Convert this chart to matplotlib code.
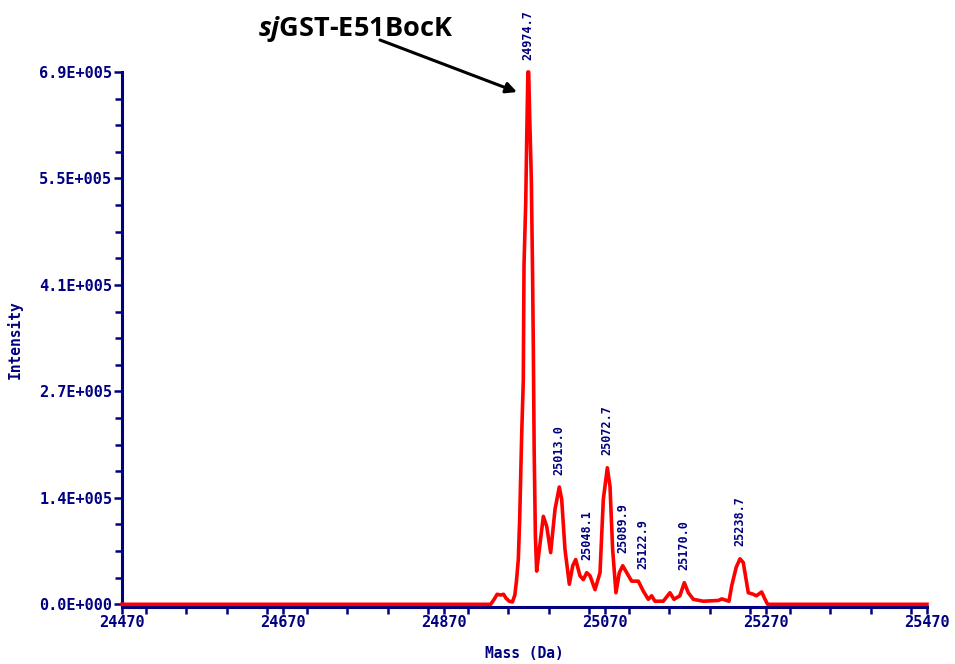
import numpy as np
import matplotlib.pyplot as plt
from matplotlib.ticker import MultipleLocator

# spectrum trace (mass in Da, intensity in counts)
mass = [24470, 24928, 24932, 24936, 24940, 24944, 24947, 24951, 24955, 24958,
        24960, 24962.3, 24964, 24966.5, 24968.5, 24969.4, 24971.5, 24972.7, 24974.2,
        24975.2, 24976.5, 24978.5, 24980, 24981, 24982, 24983.5, 24985.1, 24988.4,
        24993.4, 24997.6, 25002.5, 25007.9, 25013.2, 25016.2, 25020.3, 25025.7,
        25029.9, 25033.6, 25038.9, 25043.1, 25047.3, 25051.4, 25057.6, 25063.8,
        25067.9, 25072.9, 25076.2, 25079.5, 25083.6, 25087.8, 25092.0, 25097,
        25103.1, 25111.4, 25117.6, 25123.8, 25128, 25132, 25142.4, 25150.7, 25155.7,
        25163, 25168.5, 25173.5, 25179.7, 25192, 25211, 25215, 25224, 25227.4, 25233,
        25237.7, 25241.8, 25248, 25254.2, 25258, 25264.6, 25268.8, 25272, 25470]
intensity = [0, 0, 6e3, 1.3e4, 1.2e4, 1.3e4, 8e3, 4e3, 3e3, 1.2e4,
             3e4, 5.8e4, 1.1e5, 2.2e5, 2.9e5, 4.4e5, 5.2e5, 6.0e5, 6.9e5,
             6.9e5, 6.3e5, 5.5e5, 4.3e5, 3.3e5, 2.0e5, 9e4, 4.3e4, 7.1e4,
             1.14e5, 1.01e5, 6.7e4, 1.23e5, 1.52e5, 1.36e5, 7.1e4, 2.6e4,
             5.0e4, 5.8e4, 3.7e4, 3.2e4, 4.1e4, 3.7e4, 1.9e4, 4.1e4,
             1.36e5, 1.77e5, 1.53e5, 7.1e4, 1.5e4, 4.1e4, 5.0e4, 4.1e4,
             3.0e4, 3.0e4, 1.7e4, 6.5e3, 1.1e4, 4e3, 4e3, 1.5e4, 6.5e3,
             1.1e4, 2.8e4, 1.5e4, 6.5e3, 4e3, 5e3, 7e3, 4e3, 2.4e4, 4.8e4,
             5.9e4, 5.4e4, 1.5e4, 1.3e4, 1.1e4, 1.6e4, 6.5e3, 0, 0]

# peak labels: position on the mass axis, top of peak, printed text
peak_mass = [24974.7, 25013.2, 25047.3, 25072.9, 25092.0, 25117.0, 25168.5, 25237.7]
peak_height = [6.9e5, 1.52e5, 4.1e4, 1.77e5, 5.0e4, 3.0e4, 2.8e4, 5.9e4]
peak_text = ['24974.7', '25013.0', '25048.1', '25072.7', '25089.9', '25122.9',
             '25170.0', '25238.7']

x_ticks = [24470, 24670, 24870, 25070, 25270, 25470]
y_ticks = [0, 1.38e5, 2.76e5, 4.14e5, 5.52e5, 6.9e5]
y_tick_labels = ['0.0E+000', '1.4E+005', '2.7E+005', '4.1E+005', '5.5E+005', '6.9E+005']

navy = '#000080'
mono = 'DejaVu Sans Mono'

plt.rcParams['mathtext.fontset'] = 'custom'
plt.rcParams['mathtext.it'] = 'Open Sans:italic:bold'
plt.rcParams['mathtext.rm'] = 'Open Sans:bold'

fig = plt.figure(figsize=(9.55, 6.64), dpi=100)
ax = fig.add_axes([122 / 955, 57 / 664, 805 / 955, 535 / 664])

ax.plot(mass, intensity, color='red', lw=2.6, clip_on=False, zorder=3)

ax.set_xlim(24470, 25470)
ax.set_ylim(-3500, 6.9e5)

for m, h, t in zip(peak_mass, peak_height, peak_text):
    ax.annotate(t, xy=(m, h), xytext=(0, 9), textcoords='offset points',
                rotation=90, ha='center', va='bottom', color=navy,
                fontsize=8.5, fontweight='bold', family=mono)

ax.set_xticks(x_ticks)
ax.set_xticklabels([str(v) for v in x_ticks])
ax.xaxis.set_minor_locator(MultipleLocator(50))
ax.set_yticks(y_ticks)
ax.set_yticklabels(y_tick_labels)
ax.yaxis.set_minor_locator(MultipleLocator(0.345e5))

for s in ['top', 'right']:
    ax.spines[s].set_visible(False)
for s in ['left', 'bottom']:
    ax.spines[s].set_color(navy)
    ax.spines[s].set_linewidth(2.2)

ax.tick_params(axis='both', which='both', colors=navy, width=1.8, direction='out')
ax.tick_params(axis='x', which='both', length=5, pad=1)
ax.tick_params(axis='y', which='major', length=6, pad=1)
ax.tick_params(axis='y', which='minor', length=5)
for lab in ax.get_xticklabels() + ax.get_yticklabels():
    lab.set_family(mono)
    lab.set_fontweight('bold')
    lab.set_fontsize(11)

ax.set_xlabel('Mass (Da)', family=mono, fontweight='bold', fontsize=10.5,
              color=navy, labelpad=11)
ax.set_ylabel('Intensity', family=mono, fontweight='bold', fontsize=10.5,
              color=navy, labelpad=12)

# protein name with arrow to the main peak
fig.text(258 / 955, 1 - 36 / 664, r'$\mathit{sj}$GST-E51BocK', family='Open Sans',
         fontweight='bold', fontsize=19.5, color='black', ha='left', va='baseline')
ax.annotate('', xy=(24960.7, 6.64e5), xycoords='data',
            xytext=(380, 664 - 40), textcoords='figure pixels',
            arrowprops=dict(arrowstyle='-|>', color='black', lw=2.2,
                            mutation_scale=16, shrinkA=0, shrinkB=0),
            annotation_clip=False)

fig.savefig('out.png', dpi=100)
